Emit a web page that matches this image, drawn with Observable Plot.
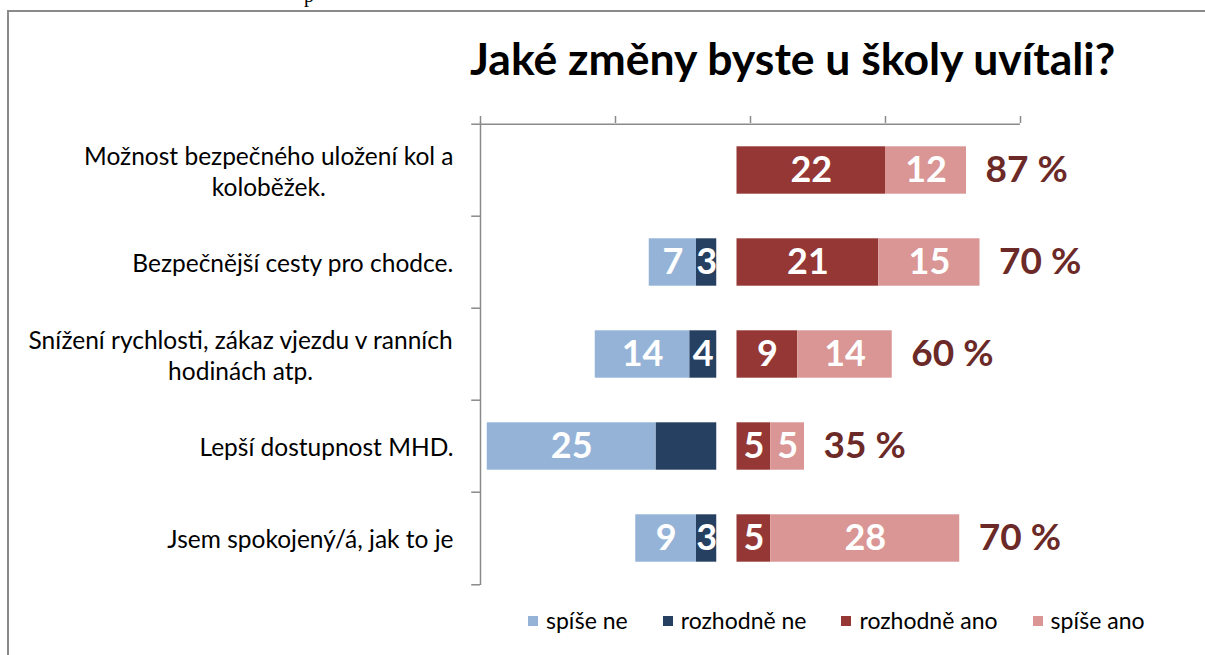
<!DOCTYPE html>
<html>
<head>
<meta charset="utf-8">
<script src="https://cdn.jsdelivr.net/npm/d3@7"></script>
<script src="https://cdn.jsdelivr.net/npm/@observablehq/plot@0.6"></script>
<style>
  html, body { margin: 0; padding: 0; background: #fff; }
  #page { position: relative; width: 1205px; height: 655px; overflow: hidden; font-family: Lato, "Open Sans", sans-serif; }
  #frame { position: absolute; left: 7px; top: 10px; width: 1300px; height: 700px; border-top: 2px solid #8a8a8a; border-left: 2px solid #8a8a8a; }
  #frag { position: absolute; left: 304px; top: -16px; font-family: "Liberation Serif", serif; font-size: 20px; color: #000; }
  #title { position: absolute; left: 470px; top: 31px; font-size: 44.5px; line-height: 1.2; font-weight: bold; white-space: nowrap; color: #000; }
  #chart { position: absolute; left: 0; top: 0; }
  #legend { position: absolute; left: 528px; top: 607px; display: flex; align-items: center; font-size: 23px; line-height: 1.2; color: #000; white-space: nowrap; }
  .item { display: flex; align-items: center; margin-right: 35px; }
  .sw { width: 10px; height: 10px; margin-right: 8px; }
</style>
</head>
<body>
<div id="page">
  <div id="frag">p</div>
  <div id="frame"></div>
  <div id="chart"></div>
  <div id="title"></div>
  <div id="legend"></div>
</div>
<script>
// ---- data ----
const title = "Jaké změny byste u školy uvítali?";
const categories = [
  "Možnost bezpečného uložení kol a\nkoloběžek.",
  "Bezpečnější cesty pro chodce.",
  "Snížení rychlosti, zákaz vjezdu v ranních\nhodinách atp.",
  "Lepší dostupnost MHD.",
  "Jsem spokojený/á, jak to je"
];
const seriesNames = ["spíše ne", "rozhodně ne", "rozhodně ano", "spíše ano"];
const seriesColors = ["#95B3D7", "#254061", "#953735", "#D99694"];
const spiseNe     = [0, 7, 14, 25, 9];
const rozhodneNe  = [0, 3, 4, 9, 3];
const rozhodneAno = [22, 21, 9, 5, 5];
const spiseAno    = [12, 15, 14, 5, 28];
const podilAno    = [87, 70, 60, 35, 70];
// value label not shown in the source for this segment
const hiddenLabels = [{category: 3, series: "rozhodně ne"}];

// ---- layout constants (axis units) ----
const NEG_END = 35, POS_START = 38;
const FONT = "Lato";

const segments = [];
categories.forEach((c, i) => {
  const add = (series, value, x1, x2) => {
    if (value > 0) segments.push({
      category: c, series, value, x1, x2,
      show: !hiddenLabels.some(h => h.category === i && h.series === series)
    });
  };
  add("rozhodně ne", rozhodneNe[i], NEG_END - rozhodneNe[i], NEG_END);
  add("spíše ne", spiseNe[i], NEG_END - rozhodneNe[i] - spiseNe[i], NEG_END - rozhodneNe[i]);
  add("rozhodně ano", rozhodneAno[i], POS_START, POS_START + rozhodneAno[i]);
  add("spíše ano", spiseAno[i], POS_START + rozhodneAno[i], POS_START + rozhodneAno[i] + spiseAno[i]);
});
const rows = categories.map((c, i) => ({
  category: c, end: POS_START + rozhodneAno[i] + spiseAno[i], pct: podilAno[i]
}));

// measure category labels for centred multi-line blocks
const ctx = document.createElement("canvas").getContext("2d");
const LABEL_SIZE = 24.5;
ctx.font = `${LABEL_SIZE}px ${FONT}`;
const labelMarks = categories.map(c => {
  const w = d3.max(c.split("\n"), l => ctx.measureText(l).width);
  return Plot.text([c], {
    x: () => 0, y: d => d, text: d => d, textAnchor: "middle",
    dx: -(27 + w / 2), fontSize: LABEL_SIZE, lineHeight: 1.25, fill: "#000"
  });
});

const step = (585 - 122) / categories.length;
const grey = "#8a8a8a";

const chart = Plot.plot({
  width: 1205, height: 600,
  marginLeft: 480, marginRight: 185, marginTop: 122, marginBottom: 15,
  style: {fontFamily: FONT, background: "transparent"},
  x: {domain: [0, 80], axis: null},
  y: {domain: categories, axis: null, padding: 0},
  color: {domain: seriesNames, range: seriesColors},
  marks: [
    Plot.barX(segments, {
      x1: "x1", x2: "x2", y: "category", fill: "series",
      insetTop: (step - 48) / 2, insetBottom: (step - 48) / 2
    }),
    Plot.text(segments.filter(d => d.show), {
      x: d => (d.x1 + d.x2) / 2, y: "category", text: d => String(d.value),
      fill: "white", fontSize: 36, fontWeight: "bold"
    }),
    Plot.text(rows, {
      x: "end", y: "category", text: d => `${d.pct} %`, textAnchor: "start",
      dx: 19, fill: "#6B2927", fontSize: 37, fontWeight: "bold"
    }),
    ...labelMarks,
    // y axis line and band ticks
    Plot.ruleX([0], {stroke: grey, strokeWidth: 1.5}),
    Plot.ruleY(categories, {y: d => d, x1: -1.3, x2: 0, dy: -step / 2, stroke: grey, strokeWidth: 1.5}),
    Plot.ruleY([categories[categories.length - 1]], {y: d => d, x1: -1.3, x2: 0, dy: step / 2, stroke: grey, strokeWidth: 1.5}),
    // top x axis line and ticks
    Plot.ruleY([categories[0]], {y: d => d, x1: 0, x2: 80, dy: -step / 2, stroke: grey, strokeWidth: 1.5}),
    Plot.axisX({anchor: "top", ticks: [0, 20, 40, 60, 80], tickFormat: () => "", tickSize: 7, stroke: grey, strokeWidth: 1.5})
  ]
});
document.getElementById("chart").append(chart);
document.getElementById("title").textContent = title;

const legend = document.getElementById("legend");
seriesNames.forEach((s, i) => {
  const item = document.createElement("div");
  item.className = "item";
  const sw = document.createElement("div");
  sw.className = "sw";
  sw.style.background = seriesColors[i];
  const t = document.createElement("span");
  t.textContent = s;
  item.append(sw, t);
  legend.append(item);
});
</script>
</body>
</html>
